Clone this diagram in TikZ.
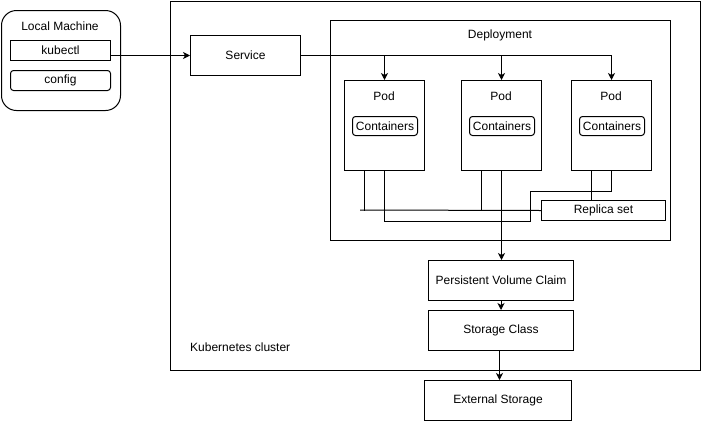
\documentclass[tikz,border=0pt]{standalone}
\usepackage{fontspec}
\setmainfont{Liberation Sans}
\usetikzlibrary{arrows.meta}
\begin{document}
\begin{tikzpicture}[x=1pt,y=-1pt,
  every node/.style={font=\fontsize{12}{14}\selectfont, inner sep=0pt},
  box/.style={draw, line width=1pt, anchor=north west, fill=white},
  rbox/.style={box, rounded corners=3pt},
  lbl/.style={anchor=center},
  conn/.style={line width=1pt},
  arr/.style={conn, -{Stealth[length=7pt,width=7pt,inset=2pt]}}]
\useasboundingbox (0,0) rectangle (701,421);
% Local machine
\node[box, rounded corners=15pt, minimum width=119pt, minimum height=100pt] (local) at (1,10) {};
\node[lbl] (localtxt) at (60,26) {Local Machine};
\node[box, minimum width=100pt, minimum height=20pt] (kubectl) at (10,40) {kubectl};
\node[rbox, minimum width=100pt, minimum height=20pt] (config) at (10,70) {config};
% Cluster
\node[box, minimum width=530pt, minimum height=369pt] (cluster) at (170,1) {};
\node[anchor=west] (clustertxt) at (190,347) {Kubernetes cluster};
\node[box, minimum width=110pt, minimum height=40pt] (service) at (190,35) {Service};
% Deployment
\node[box, minimum width=340pt, minimum height=220pt] (deploy) at (330,20) {};
\node[lbl] (deploytxt) at (500,35) {Deployment};
% Pods
\foreach \i/\x in {1/344,2/461,3/571}{
  \node[box, minimum width=80pt, minimum height=90pt] (pod\i) at (\x,80) {};
  \node[lbl] (podtxt\i) at (\x+40,96) {Pod};
  \node[rbox, minimum width=65pt, minimum height=19pt] (cont\i) at (\x+8,116) {Containers};
}
\node[box, minimum width=124pt, minimum height=20pt] (rs) at (541,200) {Replica set};
% Storage
\node[box, minimum width=145pt, minimum height=40pt] (pvc) at (428,260) {Persistent Volume Claim};
\node[box, minimum width=145pt, minimum height=40pt] (sc) at (428,310) {Storage Class};
\node[box, minimum width=147pt, minimum height=40pt] (es) at (424,380) {External Storage};
% Connectors
\draw[arr] ([yshift=-5pt]kubectl.east) -- (service.west);
\draw[arr] (service.east) -| (pod1.north);
\draw[arr] (service.east) -| (pod2.north);
\draw[arr] (service.east) -| (pod3.north);
\coordinate (stub) at (360,210);
\draw[conn] (rs.west) -- (stub);
\draw[conn] ([xshift=-20pt]pod1.south) -- ([xshift=-20pt]pod1.south |- rs.west);
\draw[conn] ([xshift=-20pt]pod2.south) -- ([xshift=-20pt]pod2.south |- rs.west);
\draw[conn] ([xshift=-20pt]pod3.south) -- ([xshift=-20pt]pod3.south |- rs.north);
\coordinate (bend1) at (530,221);
\coordinate (bend2) at (530,191);
\draw[conn] (pod1.south) |- (bend1) -- (bend2) -| (pod3.south);
\draw[arr] (pod2.south) -- (pod2.south |- pvc.north);
\draw[arr] (pvc.south) -- (pvc.south |- sc.north);
\draw[arr] ([xshift=-1.5pt]sc.south) -- ([xshift=-1.5pt]sc.south |- es.north);
\end{tikzpicture}
\end{document}
